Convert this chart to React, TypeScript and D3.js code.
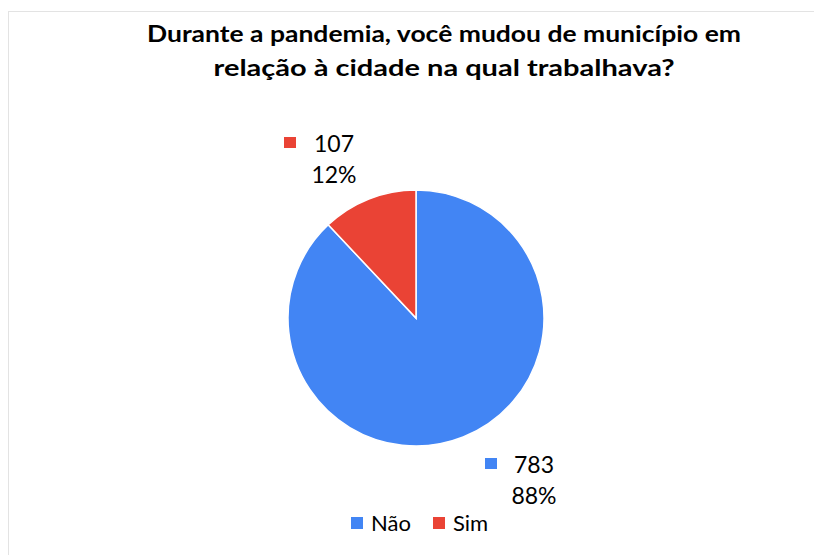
import * as d3 from 'd3';

const categories = ['Não', 'Sim'];
const values = [783, 107];
const percents = ['88%', '12%'];
const colors = ['#4285F4', '#EA4335'];
const titleLines = [
    'Durante a pandemia, você mudou de município em',
    'relação à cidade na qual trabalhava?',
];

const width = 814;
const height = 555;
const font = 'Lato, "Noto Sans", sans-serif';

export default function App() {
    const cx = 416,
        cy = 318,
        r = 128;

    const pie = d3
        .pie<number>()
        .sort(null)
        .value((d) => d);
    const arcs = pie(values);
    const arc = d3.arc<d3.PieArcDatum<number>>().innerRadius(0).outerRadius(r);

    // data label boxes, placed outside the slices (marker top-left, text centre)
    const labelPos = [
        { x: 485, y: 458, cx: 534 },
        { x: 284, y: 137, cx: 334 },
    ];

    return (
        <svg
            width={width}
            height={height}
            style={{ position: 'absolute', left: 0, top: 0 }}
        >
            <rect x={0} y={0} width={width} height={height} fill="#fff" />
            <rect
                x={8.5}
                y={11.5}
                width={width + 10}
                height={height + 10}
                fill="none"
                stroke="#e3e3e3"
            />
            {titleLines.map((t, i) => (
                <text
                    key={i}
                    x={444}
                    y={42 + i * 34}
                    textAnchor="middle"
                    fontFamily={font}
                    fontWeight="bold"
                    fontSize={23}
                    textLength={i === 0 ? 594 : 461}
                    lengthAdjust="spacingAndGlyphs"
                    fill="#000"
                >
                    {t}
                </text>
            ))}
            <g transform={`translate(${cx},${cy})`}>
                {arcs.map((a, i) => (
                    <path
                        key={i}
                        d={arc(a) ?? ''}
                        fill={colors[i]}
                        stroke="#fff"
                        strokeWidth={1.5}
                    />
                ))}
            </g>
            {labelPos.map((p, i) => (
                <g key={i} fontFamily={font} fontSize={23} fill="#000">
                    <rect x={p.x} y={p.y} width={12} height={11} fill={colors[i]} />
                    <text x={p.cx} y={p.y + 15} textAnchor="middle">
                        {values[i]}
                    </text>
                    <text x={p.cx} y={p.y + 46} textAnchor="middle">
                        {percents[i]}
                    </text>
                </g>
            ))}
            <g fontFamily={font} fontSize={22} fill="#000">
                {categories.map((c, i) => {
                    const x = i === 0 ? 351 : 433;
                    return (
                        <g key={c}>
                            <rect x={x} y={517} width={12} height={12} fill={colors[i]} />
                            <text x={x + 20} y={531}>
                                {c}
                            </text>
                        </g>
                    );
                })}
            </g>
        </svg>
    );
}
